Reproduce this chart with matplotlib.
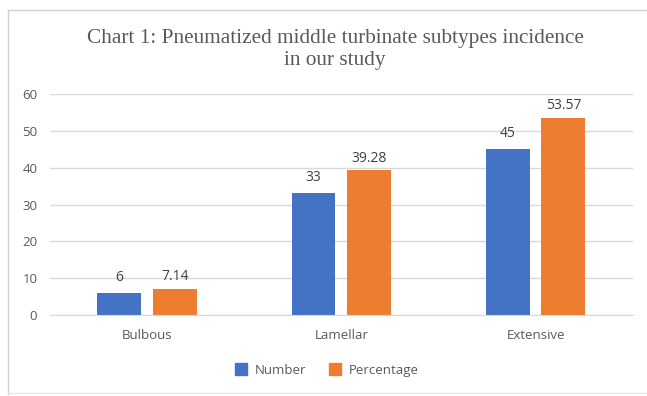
import matplotlib
matplotlib.use("Agg")
import matplotlib.pyplot as plt
import numpy as np
from matplotlib.lines import Line2D

# subtype counts and percentages
categories = ["Bulbous", "Lamellar", "Extensive"]
number = [6, 33, 45]
percentage = [7.14, 39.28, 53.57]
number_labels = ["6", "33", "45"]
percentage_labels = ["7.14", "39.28", "53.57"]
yticks = [0, 10, 20, 30, 40, 50, 60]

blue = "#4472C4"
orange = "#ED7D31"
gray = "#595959"
sans = "Open Sans"

fig = plt.figure(figsize=(6.47, 3.96), dpi=100)
ax = fig.add_axes([0.077, 0.2045, 0.901, 0.558])

x = np.arange(len(categories))
w = 0.226
b1 = ax.bar(x - 0.143, number, w, color=blue, label="Number")
b2 = ax.bar(x + 0.143, percentage, w, color=orange, label="Percentage")

for rect, txt in zip(b1, number_labels):
    ax.text(rect.get_x() + rect.get_width() / 2, rect.get_height() + 2.2, txt,
            ha="center", va="bottom", fontsize=10, color="#404040", family=sans)
for rect, txt in zip(b2, percentage_labels):
    ax.text(rect.get_x() + rect.get_width() / 2, rect.get_height() + 1.2, txt,
            ha="center", va="bottom", fontsize=10, color="#404040", family=sans)

ax.set_xlim(-0.5, 2.5)
ax.set_ylim(0, 60)
ax.set_yticks(yticks)
ax.set_xticks(x)
ax.set_xticklabels(categories)
ax.yaxis.grid(True, color="#D9D9D9", linewidth=1)
ax.set_axisbelow(True)
for s in ["top", "right", "left"]:
    ax.spines[s].set_visible(False)
ax.spines["bottom"].set_color("#D9D9D9")
ax.tick_params(axis="both", length=0, labelsize=9.5, labelcolor=gray, pad=10)
for lbl in ax.get_xticklabels() + ax.get_yticklabels():
    lbl.set_family(sans)
ax.tick_params(axis="y", pad=9)

fig.text(0.518, 0.876, "Chart 1: Pneumatized middle turbinate subtypes incidence\nin our study",
         ha="center", va="center", fontsize=15.3, color=gray, family="Liberation Serif",
         linespacing=1.2)

handles = [Line2D([], [], marker="s", linestyle="", color=blue, markersize=8),
           Line2D([], [], marker="s", linestyle="", color=orange, markersize=8)]
fig.legend(handles, ["Number", "Percentage"], loc="center", bbox_to_anchor=(0.5, 0.065),
           ncol=2, frameon=False, handletextpad=0.05, columnspacing=1.2,
           prop={"family": sans, "size": 9.5}, labelcolor=gray)

# light frame around the chart area
frame = "#D0D0D0"
fig.add_artist(Line2D([0.012, 0.012], [0.005, 0.975], color=frame, lw=1, transform=fig.transFigure))
fig.add_artist(Line2D([0.012, 0.998], [0.975, 0.975], color=frame, lw=1, transform=fig.transFigure))
fig.add_artist(Line2D([0.012, 0.998], [0.007, 0.007], color="#E6E6E6", lw=1, transform=fig.transFigure))

fig.savefig("out.png", dpi=100)
